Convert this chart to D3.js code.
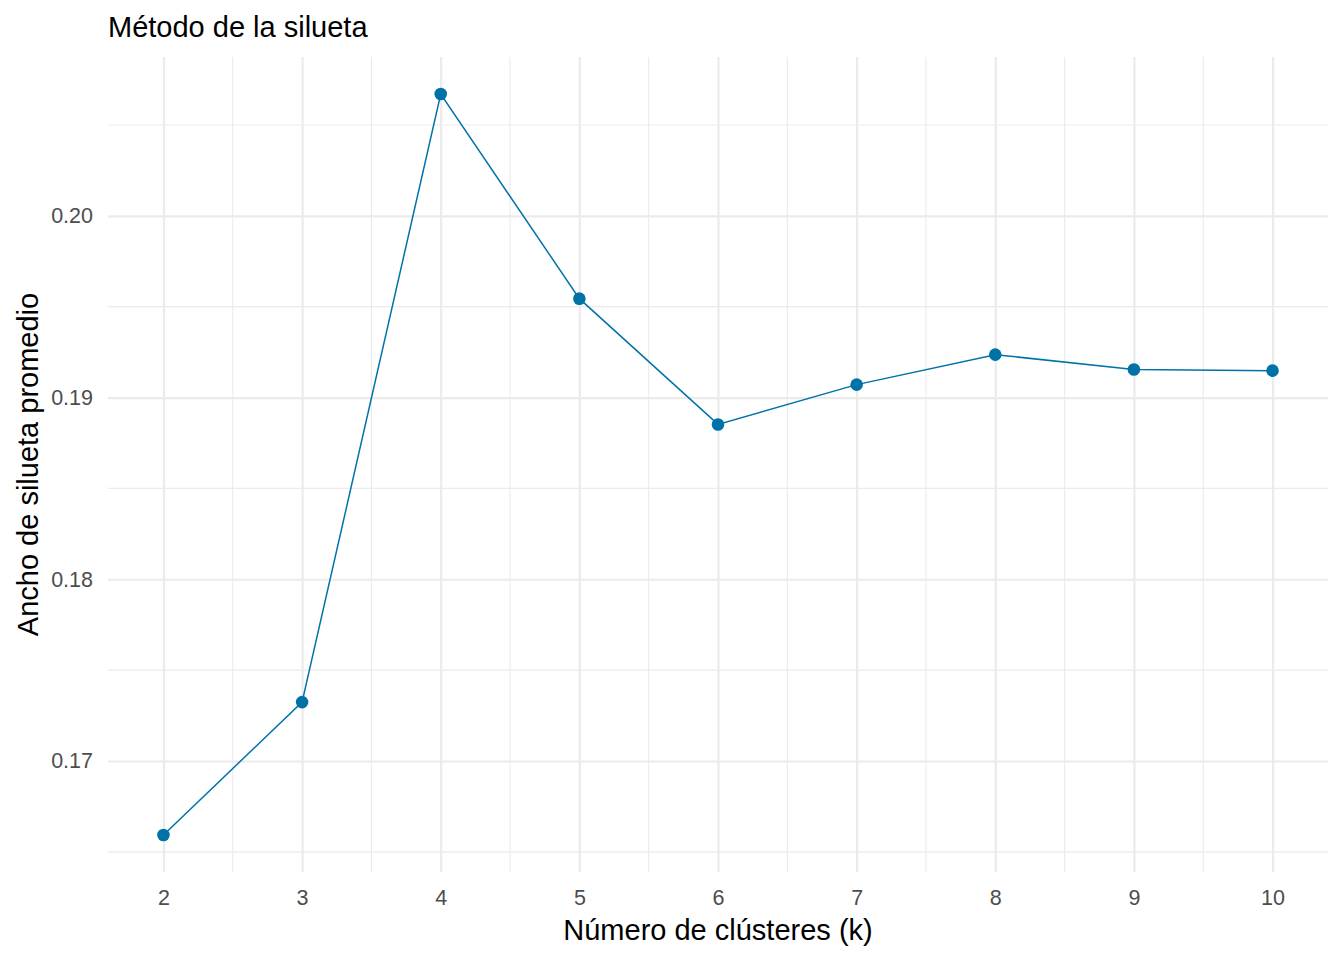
<!DOCTYPE html>
<html>
<head>
<meta charset="utf-8">
<script src="https://cdn.jsdelivr.net/npm/d3@7"></script>
<style>
  body { margin: 0; background: #fff; }
  text { font-family: Arial, "Liberation Sans", sans-serif; }
</style>
</head>
<body>
<svg id="chart"></svg>
<script>
// data
var kValues = [2, 3, 4, 5, 6, 7, 8, 9, 10];
var silhouette = [0.16593, 0.17324, 0.2067, 0.19544, 0.18852, 0.19071, 0.19236, 0.19154, 0.19148];
var yTicks = [0.17, 0.18, 0.19, 0.20];
var yMinor = [0.165, 0.175, 0.185, 0.195, 0.205];
var xMinor = [2.5, 3.5, 4.5, 5.5, 6.5, 7.5, 8.5, 9.5];

const W = 1344, H = 960;
const margins = {t: 57, r: 16, b: 88, l: 108};
const size = {w: W - margins.l - margins.r, h: H - margins.t - margins.b};
const blue = "#0072A8";

var data = kValues.map(function(k, i) { return {k: k, s: silhouette[i]}; });

var svg = d3.select('#chart').attr('width', W).attr('height', H);

// ggplot-style 5% expansion
var yMin = d3.min(silhouette), yMax = d3.max(silhouette);
var yPad = (yMax - yMin) * 0.05;

var scaleX = d3.scaleLinear()
    .domain([1.6, 10.4])
    .range([0, size.w]);

var scaleY = d3.scaleLinear()
    .domain([yMin - yPad, yMax + yPad])
    .range([size.h, 0]);

var g = svg.append('g')
    .attr('transform', `translate(${margins.l}, ${margins.t})`);

// minor grid
g.selectAll('.ymin').data(yMinor).enter().append('line')
    .attr('x1', 0).attr('x2', size.w)
    .attr('y1', d => scaleY(d)).attr('y2', d => scaleY(d))
    .attr('stroke', '#ebebeb').attr('stroke-width', 1.1);
g.selectAll('.xmin').data(xMinor).enter().append('line')
    .attr('y1', 0).attr('y2', size.h)
    .attr('x1', d => scaleX(d)).attr('x2', d => scaleX(d))
    .attr('stroke', '#ebebeb').attr('stroke-width', 1.1);

// major grid via axes
var yAxis = d3.axisLeft(scaleY)
    .tickValues(yTicks)
    .tickFormat(d3.format('.2f'))
    .tickSize(-size.w)
    .tickPadding(15);

var xAxis = d3.axisBottom(scaleX)
    .tickValues(kValues)
    .tickFormat(d3.format('d'))
    .tickSize(-size.h)
    .tickPadding(18);

var yAxisG = g.append('g').call(yAxis);
yAxisG.select('.domain').remove();
yAxisG.selectAll('line').attr('stroke', '#ebebeb').attr('stroke-width', 2.2);
yAxisG.selectAll('text').attr('fill', '#4d4d4d').style('font-size', '21.5px');

var xAxisG = g.append('g').call(xAxis)
    .attr('transform', `translate(0,${size.h})`);
xAxisG.select('.domain').remove();
xAxisG.selectAll('line').attr('stroke', '#ebebeb').attr('stroke-width', 2.2);
xAxisG.selectAll('text').attr('fill', '#4d4d4d').style('font-size', '21.5px')
    .attr('dy', '0.71em');

// line + points
var line = d3.line()
    .x(d => scaleX(d.k))
    .y(d => scaleY(d.s));

g.append('path')
    .datum(data)
    .attr('d', line)
    .attr('fill', 'none')
    .attr('stroke', blue)
    .attr('stroke-width', 1.5);

g.selectAll('circle').data(data).enter().append('circle')
    .attr('cx', d => scaleX(d.k))
    .attr('cy', d => scaleY(d.s))
    .attr('r', 6.3)
    .attr('fill', blue);

// labels
svg.append('text')
    .attr('x', margins.l).attr('y', 37)
    .style('font-size', '29px').attr('fill', '#000')
    .text('Método de la silueta');

svg.append('text')
    .attr('x', margins.l + size.w / 2).attr('y', 940)
    .attr('text-anchor', 'middle')
    .style('font-size', '29px').attr('fill', '#000')
    .text('Número de clústeres (k)');

svg.append('text')
    .attr('transform', `translate(38, ${margins.t + size.h / 2}) rotate(-90)`)
    .attr('text-anchor', 'middle')
    .style('font-size', '29px').attr('fill', '#000')
    .text('Ancho de silueta promedio');
</script>
</body>
</html>
